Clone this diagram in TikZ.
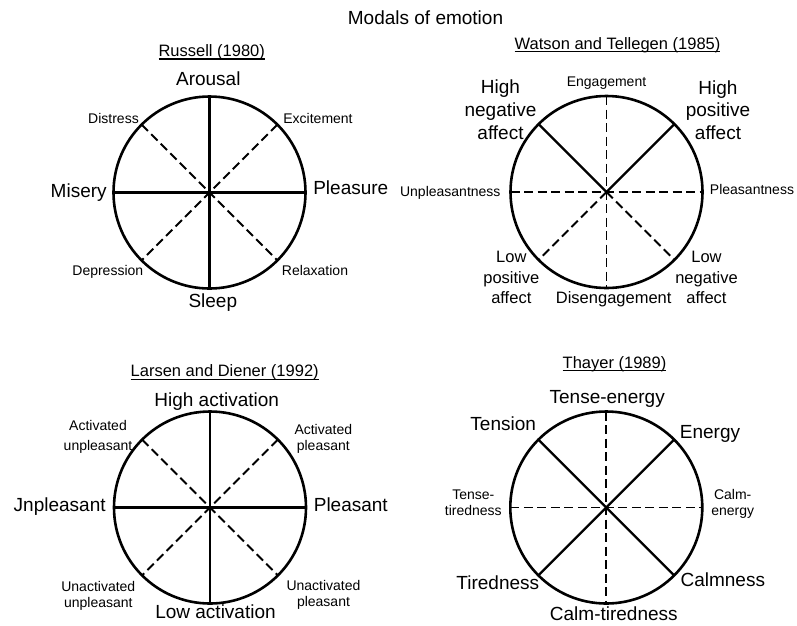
\documentclass[tikz,border=0pt]{standalone}
\usepackage{fontspec}
\setmainfont{Liberation Sans}
\begin{document}
\begin{tikzpicture}[x=1pt,y=-1pt,
  lbl/.style={anchor=base,inner sep=0pt,outer sep=0pt},
  big/.style={lbl,font=\fontsize{19}{22}\selectfont},
  small/.style={lbl,font=\fontsize{14}{16}\selectfont},
  mid/.style={lbl,font=\fontsize{16.5}{19}\selectfont},
  sub/.style={lbl,font=\fontsize{16.5}{19}\selectfont},
  rim/.style={circle,draw,line width=2.6pt,minimum size=192pt,inner sep=0pt,outer sep=0pt},
  axis/.style={line width=2.3pt},
  guide/.style={line width=1.8pt,dash pattern=on 9pt off 4.5pt},
  uline/.style={line width=1.2pt}]
\useasboundingbox (0,0) rectangle (797,625);

% heading
\node[big] (title) at (425.5,24) {Modals of emotion};

% ---------- Russell (1980) ----------
\node[sub] (rt) at (211.7,56) {Russell (1980)};
\draw[uline] ([yshift=-3pt]rt.base west) -- ([yshift=-3pt]rt.base east);
\node[rim] (rc) at (209.5,192.5) {};
\draw[axis] (rc.north) -- (rc.south);
\draw[axis] (rc.west) -- (rc.east);
\draw[guide] (rc.135) -- (rc.315);
\draw[guide] (rc.45) -- (rc.225);
\node[big] (r-n) at (208.3,85) {Arousal};
\node[big] (r-s) at (212.8,307.3) {Sleep};
\node[big] (r-w) at (78.7,197.3) {Misery};
\node[big] (r-e) at (350.8,194.3) {Pleasure};
\node[small] (r-nw) at (113.5,123.3) {Distress};
\node[small] (r-ne) at (318,123.3) {Excitement};
\node[small] (r-sw) at (107.8,275) {Depression};
\node[small] (r-se) at (315,275) {Relaxation};

% ---------- Watson and Tellegen (1985) ----------
\node[sub] (wt) at (617.5,49.3) {Watson and Tellegen (1985)};
\draw[uline] ([yshift=-2.5pt]wt.base west) -- ([yshift=-2.5pt]wt.base east);
\node[rim] (wc) at (606.5,192) {};
\draw[guide] (wc.north) -- (wc.south);
\draw[guide] (wc.west) -- (wc.east);
\draw[axis] (wc.center) -- (wc.135);
\draw[axis] (wc.center) -- (wc.45);
\draw[guide] (wc.center) -- (wc.225);
\draw[guide] (wc.center) -- (wc.315);
\node[small] (w-n) at (606.5,86) {Engagement};
\node[mid] (w-s) at (613.7,303.3) {Disengagement};
\node[small] (w-w) at (450.3,196) {Unpleasantness};
\node[small] (w-e) at (752,194.3) {Pleasantness};
\node[big] (w-nw1) at (500.5,93) {High};
\node[big] (w-nw2) at (500.5,116) {negative};
\node[big] (w-nw3) at (500.5,139) {affect};
\node[big] (w-ne1) at (718,94) {High};
\node[big] (w-ne2) at (718,116.7) {positive};
\node[big] (w-ne3) at (718,139.3) {affect};
\node[mid] (w-sw1) at (511.3,262.7) {Low};
\node[mid] (w-sw2) at (511.3,283) {positive};
\node[mid] (w-sw3) at (511.3,303.3) {affect};
\node[mid] (w-se1) at (706.5,262.7) {Low};
\node[mid] (w-se2) at (706.5,283) {negative};
\node[mid] (w-se3) at (706.5,303.3) {affect};

% ---------- Larsen and Diener (1992) ----------
\node[sub] (lt) at (224.7,376.7) {Larsen and Diener (1992)};
\draw[uline] ([yshift=-2.5pt]lt.base west) -- ([yshift=-2.5pt]lt.base east);
\node[rim] (lc) at (210,507.5) {};
\draw[axis] (lc.north) -- (lc.south);
\draw[axis] (lc.west) -- (lc.east);
\draw[guide] (lc.135) -- (lc.315);
\draw[guide] (lc.45) -- (lc.225);
\node[big] (l-n) at (216.7,406.7) {High activation};
\node[big] (l-s) at (215.5,618.3) {Low activation};
\node[big] (l-w) at (59.7,511.7) {Jnpleasant};
\node[big] (l-e) at (350.8,511.7) {Pleasant};
\node[small] (l-nw1) at (98,430) {Activated};
\node[small] (l-nw2) at (98,450) {unpleasant};
\node[small] (l-ne1) at (323.3,434) {Activated};
\node[small] (l-ne2) at (323.3,450.7) {pleasant};
\node[small] (l-sw1) at (98.3,591) {Unactivated};
\node[small] (l-sw2) at (98.3,607.7) {unpleasant};
\node[small] (l-se1) at (323.5,590) {Unactivated};
\node[small] (l-se2) at (323.5,606) {pleasant};

% ---------- Thayer (1989) ----------
\node[sub] (tt) at (614.5,368.3) {Thayer (1989)};
\draw[uline] ([yshift=-2.5pt]tt.base west) -- ([yshift=-2.5pt]tt.base east);
\node[rim] (tc) at (606.3,507.5) {};
\draw[guide] (tc.north) -- (tc.south);
\draw[guide] (tc.west) -- (tc.east);
\draw[axis] (tc.135) -- (tc.315);
\draw[axis] (tc.45) -- (tc.225);
\node[big] (t-n) at (607.2,403.3) {Tense-energy};
\node[big] (t-s) at (613.8,620) {Calm-tiredness};
\node[big] (t-nw) at (503.2,430) {Tension};
\node[big] (t-ne) at (710,438.3) {Energy};
\node[big] (t-sw) at (497.8,589.3) {Tiredness};
\node[big] (t-se) at (722.8,586) {Calmness};
\node[small] (t-w1) at (473.3,499) {Tense-};
\node[small] (t-w2) at (473.3,515.7) {tiredness};
\node[small] (t-e1) at (732.7,499) {Calm-};
\node[small] (t-e2) at (732.7,515.7) {energy};
\end{tikzpicture}
\end{document}
